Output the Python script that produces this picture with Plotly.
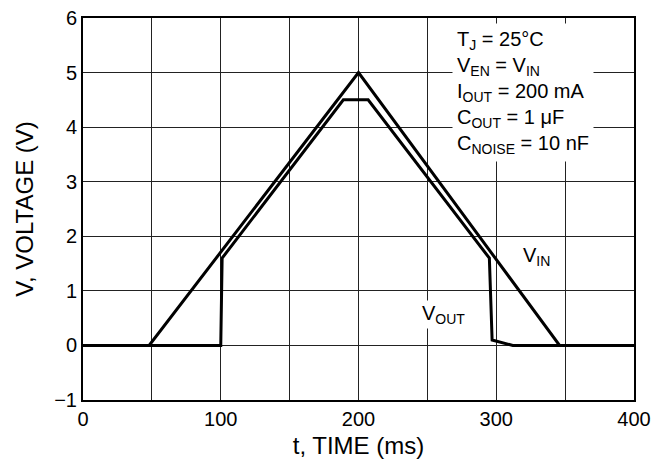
import plotly.graph_objects as go

# Input voltage ramp (ms, V)
vin_t = [0, 48, 200, 346, 400]
vin_v = [0, 0, 5, 0, 0]

# Output voltage (ms, V)
vout_t = [0, 100, 101, 189, 207, 295, 297, 312, 400]
vout_v = [0, 0, 1.6, 4.5, 4.5, 1.6, 0.1, 0, 0]

x_ticks = [0, 100, 200, 300, 400]
y_ticks = [-1, 0, 1, 2, 3, 4, 5, 6]

FONT = "Liberation Sans, Arial, sans-serif"

fig = go.Figure()
fig.add_trace(go.Scatter(x=vin_t, y=vin_v, mode="lines",
                         line=dict(color="black", width=3), showlegend=False))
fig.add_trace(go.Scatter(x=vout_t, y=vout_v, mode="lines",
                         line=dict(color="black", width=3), showlegend=False))

info = ("T<sub>J</sub> = 25°C<br>V<sub>EN</sub> = V<sub>IN</sub><br>"
        "I<sub>OUT</sub> = 200 mA<br>C<sub>OUT</sub> = 1 μF<br>"
        "C<sub>NOISE</sub> = 10 nF")
fig.add_annotation(x=268, y=5.9, xref="x", yref="y", text=info, showarrow=False,
                   xanchor="left", yanchor="top", align="left",
                   bgcolor="white", font=dict(size=20, color="black", family=FONT),
                   borderpad=4)
fig.add_annotation(x=329, y=1.63, text="V<sub>IN</sub>", showarrow=False,
                   xanchor="center", bgcolor="white",
                   font=dict(size=20, color="black", family=FONT))
fig.add_annotation(x=262, y=0.57, text="V<sub>OUT</sub>", showarrow=False,
                   xanchor="center", bgcolor="white",
                   font=dict(size=20, color="black", family=FONT))

fig.update_layout(
    width=659, height=463,
    paper_bgcolor="white", plot_bgcolor="white",
    margin=dict(l=75, r=33, t=10, b=71, autoexpand=False),
    font=dict(family=FONT, size=20, color="black"),
    xaxis=dict(range=[0, 400], tickvals=x_ticks, showgrid=True,
               gridcolor="#222222", gridwidth=1, showline=True, linecolor="black",
               linewidth=2, mirror=True, ticks="", zeroline=False, automargin=False,
               ticklabeloverflow="allow",
               title=dict(text="t, TIME (ms)", standoff=8)),
    yaxis=dict(range=[-1, 6], tickvals=y_ticks, showgrid=True,
               gridcolor="#222222", gridwidth=1, showline=True, linecolor="black",
               linewidth=2, mirror=True, ticks="", zeroline=False, automargin=False,
               ticklabeloverflow="allow",
               title=dict(text="V, VOLTAGE (V)", standoff=14)),
)
# minor grid at every 50 ms
fig.update_xaxes(minor=dict(dtick=50, showgrid=True, gridcolor="#222222", gridwidth=1))

fig.write_html("out.html")
